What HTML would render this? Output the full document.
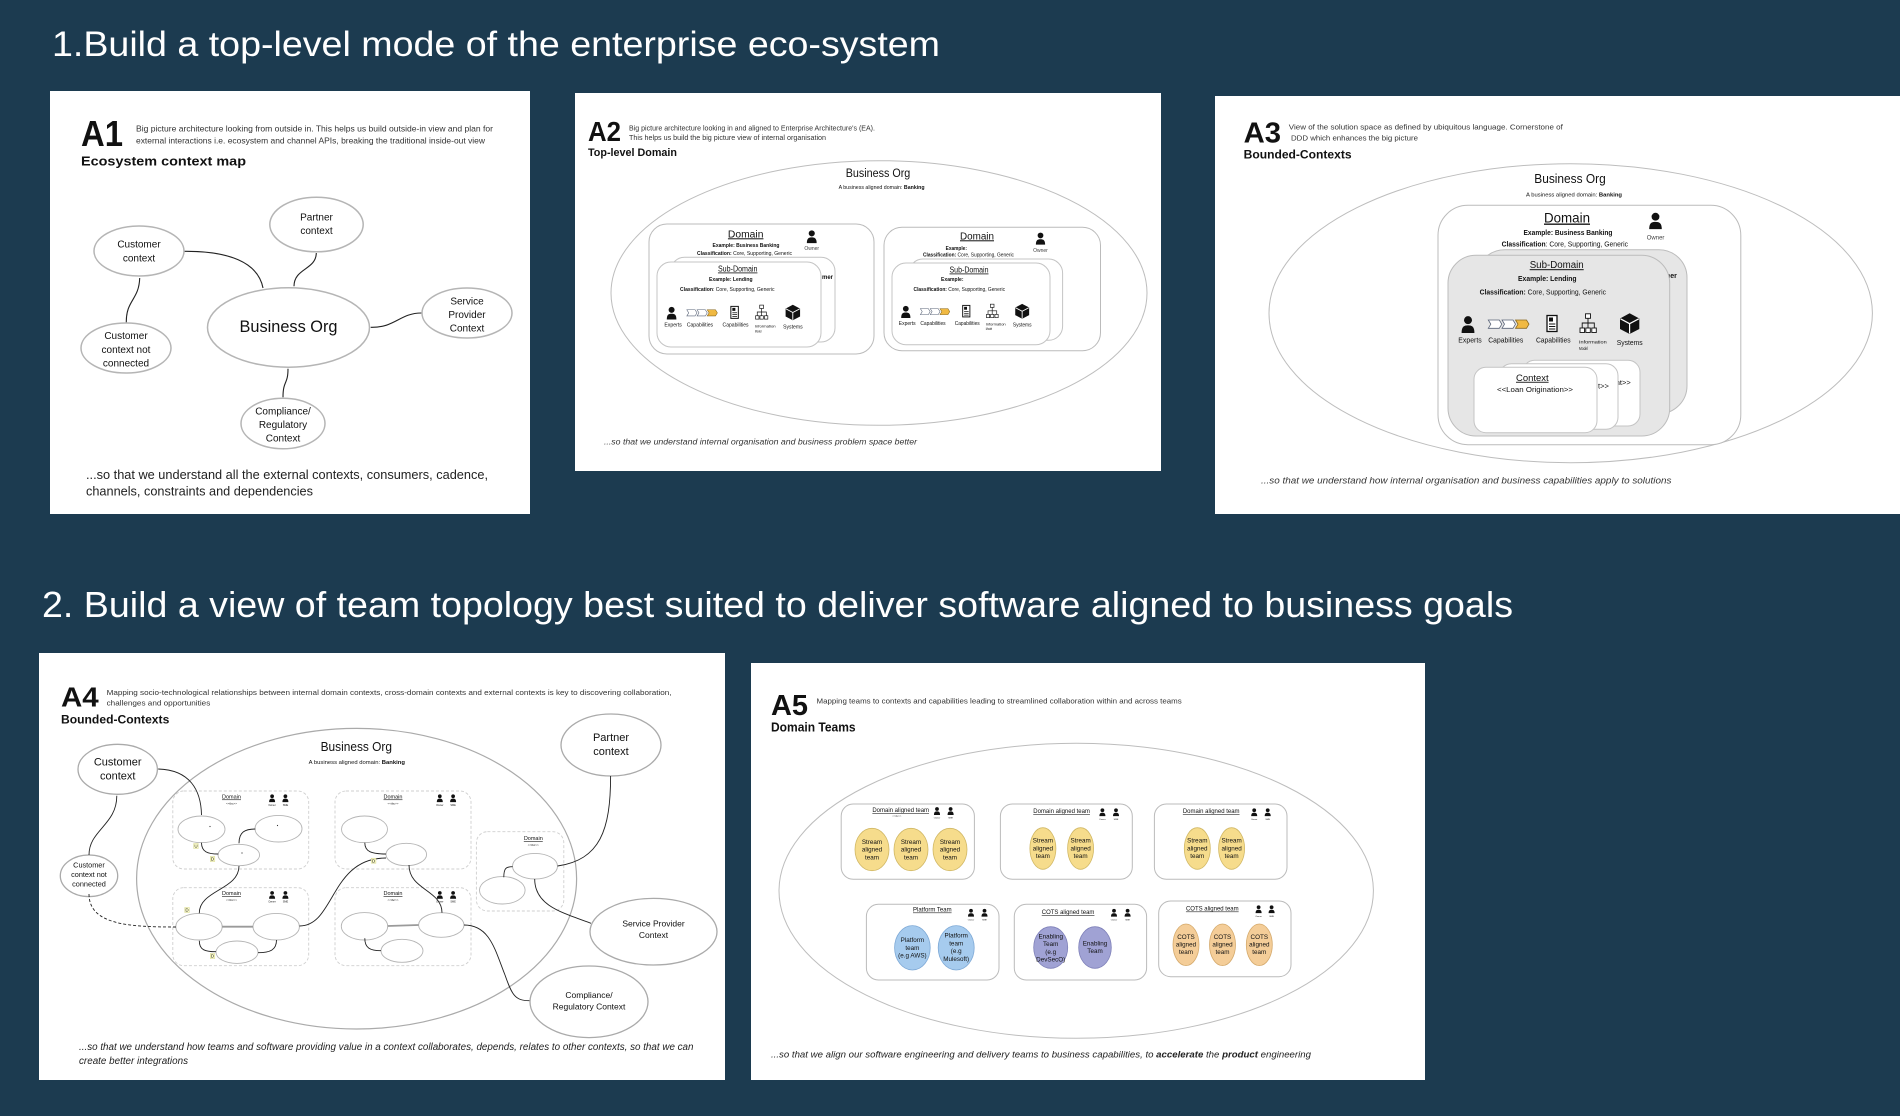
<!DOCTYPE html>
<html><head><meta charset="utf-8"><style>
html,body{margin:0;padding:0;background:#1c3b50;}
svg{display:block;}
text{font-family:"Liberation Sans",sans-serif;fill:#111;}
</style></head><body>
<svg width="1900" height="1116" viewBox="0 0 1900 1116" xmlns="http://www.w3.org/2000/svg">
<defs>
<symbol id="p" viewBox="0 0 20 22"><circle cx="10" cy="6" r="5" fill="#111"/><path d="M2 22 C2 14 5 12.5 10 12.5 C15 12.5 18 14 18 22 Z" fill="#111"/></symbol>
<g id="irow">
  <use href="#p" x="2" y="2" width="16" height="18.3"/>
  <polygon points="30.3,7 41.3,7 43.8,11.15 41.3,15.3 30.3,15.3 32.8,11.15" fill="#fff" stroke="#5a6478" stroke-width="0.8"/>
  <polygon points="44,7 55,7 57.5,11.15 55,15.3 44,15.3 46.5,11.15" fill="#fff" stroke="#5a6478" stroke-width="0.8"/>
  <polygon points="57.5,7 68.5,7 71,11.15 68.5,15.3 57.5,15.3 60,11.15" fill="#f0b942" stroke="#8a6a20" stroke-width="0.8"/>
  <rect x="89" y="2.5" width="10" height="16" fill="#fff" stroke="#111" stroke-width="1.3"/>
  <rect x="91" y="4.5" width="4" height="4" fill="#111"/>
  <line x1="91" y1="11" x2="97.3" y2="11" stroke="#111" stroke-width="1"/>
  <line x1="91" y1="13.5" x2="97.3" y2="13.5" stroke="#111" stroke-width="1"/>
  <line x1="91" y1="16" x2="97.3" y2="16" stroke="#111" stroke-width="1"/>
  <rect x="127.5" y="0.8" width="5" height="4.5" fill="#fff" stroke="#111" stroke-width="0.9"/>
  <path d="M130 5.3 V10 M124.2 15 V10 H136.3 V15 M130 10 V15" stroke="#111" stroke-width="0.9" fill="none"/>
  <rect x="122" y="15" width="4.5" height="4.5" fill="#fff" stroke="#111" stroke-width="0.9"/>
  <rect x="127.8" y="15" width="4.5" height="4.5" fill="#fff" stroke="#111" stroke-width="0.9"/>
  <rect x="133.8" y="15" width="4.5" height="4.5" fill="#fff" stroke="#111" stroke-width="0.9"/>
  <polygon points="171.6,0.3 181.3,5.5 181.3,16 171.6,21 162,16 162,5.5" fill="#111"/>
  <path d="M162.5 5.8 L171.6 10.7 L180.8 5.8 M171.6 10.7 V20.5" stroke="#fff" stroke-width="1.2" fill="none"/>
  <text x="12" y="29.5" font-size="7" text-anchor="middle" textLength="23.4" lengthAdjust="spacingAndGlyphs" fill="#333">Experts</text>
  <text x="47.8" y="29.5" font-size="7" text-anchor="middle" textLength="35" lengthAdjust="spacingAndGlyphs" fill="#333">Capabilities</text>
  <text x="95.3" y="29.5" font-size="7" text-anchor="middle" textLength="34.7" lengthAdjust="spacingAndGlyphs" fill="#333">Capabilities</text>
  <text x="121" y="30.5" font-size="4.8" textLength="27.7" lengthAdjust="spacingAndGlyphs" fill="#333">Information</text>
  <text x="121" y="37" font-size="4.8" textLength="9" lengthAdjust="spacingAndGlyphs" fill="#333">Model</text>
  <text x="171.7" y="32" font-size="7" text-anchor="middle" textLength="26" lengthAdjust="spacingAndGlyphs" fill="#333">Systems</text>
</g>
</defs>
<rect width="1900" height="1116" fill="#1c3b50"/>

<!-- Titles -->
<text x="52" y="56" font-size="35" fill="#fff" style="fill:#fff" textLength="888" lengthAdjust="spacingAndGlyphs">1.Build a top-level mode of the enterprise eco-system</text>
<text x="42" y="617" font-size="36" style="fill:#fff" textLength="1471" lengthAdjust="spacingAndGlyphs">2. Build a view of team topology best suited to deliver software aligned to business goals</text>

<!-- ================= A1 ================= -->
<rect x="50" y="91" width="480" height="423" fill="#fff"/>
<text x="81" y="146" font-size="36" font-weight="bold" textLength="42" lengthAdjust="spacingAndGlyphs">A1</text>
<text x="136" y="131.5" font-size="8.5" fill="#333" style="fill:#333" textLength="357" lengthAdjust="spacingAndGlyphs">Big picture architecture looking from outside in. This helps us build outside-in view and plan for</text>
<text x="136" y="143.5" font-size="8.5" style="fill:#333" textLength="349" lengthAdjust="spacingAndGlyphs">external interactions i.e. ecosystem and channel APIs, breaking the traditional inside-out view</text>
<text x="81" y="165.5" font-size="13.3" font-weight="bold" textLength="165" lengthAdjust="spacingAndGlyphs">Ecosystem context map</text>

<g fill="#fff" stroke="#b5b5b5" stroke-width="1.5">
  <ellipse cx="139" cy="251" rx="45" ry="25"/>
  <ellipse cx="316.5" cy="224.5" rx="46.7" ry="27.3"/>
  <ellipse cx="288.5" cy="327.5" rx="81" ry="39.7"/>
  <ellipse cx="467" cy="313" rx="45" ry="25"/>
  <ellipse cx="126" cy="348" rx="45" ry="25"/>
  <ellipse cx="283" cy="423.5" rx="42" ry="25.3"/>
</g>
<g fill="none" stroke="#222" stroke-width="1.1">
  <path d="M184.7,251.3 C228,251 258,262 263,288"/>
  <path d="M316.3,253 C316,270 294,268 294,286.3"/>
  <path d="M139.7,278 C139,300 126,300 126.3,322.3"/>
  <path d="M370.7,327.3 C395,328 400,313 421.3,313"/>
  <path d="M288,368.7 C288,385 283,380 283,397.3"/>
</g>
<g font-size="10" text-anchor="middle" style="fill:#222">
  <text x="139" y="247.5">Customer</text><text x="139" y="261.5">context</text>
  <text x="316.5" y="220.5">Partner</text><text x="316.5" y="234">context</text>
  <text x="467" y="304.5">Service</text><text x="467" y="318">Provider</text><text x="467" y="331.5">Context</text>
  <text x="126" y="339.2">Customer</text><text x="126" y="352.8">context not</text><text x="126" y="366.5">connected</text>
  <text x="283" y="414.5">Compliance/</text><text x="283" y="428">Regulatory</text><text x="283" y="441.5">Context</text>
</g>
<text x="288.5" y="332" font-size="16.5" text-anchor="middle" textLength="98" lengthAdjust="spacingAndGlyphs">Business Org</text>
<text x="86" y="479" font-size="12.5" style="fill:#222" textLength="402" lengthAdjust="spacingAndGlyphs">...so that we understand all the external contexts, consumers, cadence,</text>
<text x="86" y="495.5" font-size="12.5" style="fill:#222" textLength="227" lengthAdjust="spacingAndGlyphs">channels, constraints and dependencies</text>

<!-- ================= A2 ================= -->
<rect x="575" y="93" width="586" height="378" fill="#fff"/>
<text x="588" y="141" font-size="28" font-weight="bold" textLength="33" lengthAdjust="spacingAndGlyphs">A2</text>
<text x="629" y="130.5" font-size="7" style="fill:#333" textLength="246" lengthAdjust="spacingAndGlyphs">Big picture architecture looking in and aligned to Enterprise Architecture's (EA).</text>
<text x="629" y="139.8" font-size="7" style="fill:#333" textLength="197" lengthAdjust="spacingAndGlyphs">This helps us build the big picture view of internal organisation</text>
<text x="588" y="156" font-size="11" font-weight="bold" textLength="89" lengthAdjust="spacingAndGlyphs">Top-level Domain</text>
<ellipse cx="879" cy="293" rx="268" ry="132.3" fill="#fff" stroke="#bdbdbd" stroke-width="1"/>
<text x="878" y="177" font-size="11.5" text-anchor="middle" textLength="64.5" lengthAdjust="spacingAndGlyphs">Business Org</text>
<text x="881.6" y="189" font-size="5.5" text-anchor="middle" textLength="86" lengthAdjust="spacingAndGlyphs">A business aligned domain: <tspan font-weight="bold">Banking</tspan></text>

<!-- left domain -->
<rect x="649" y="224" width="225" height="130" rx="18" fill="#fff" stroke="#bbb" stroke-width="1"/>
<text x="745.7" y="237.3" font-size="10" text-anchor="middle" text-decoration="underline" textLength="35.5" lengthAdjust="spacingAndGlyphs">Domain</text>
<use href="#p" x="804.5" y="229.7" width="14.5" height="13.5"/>
<text x="811.7" y="250" font-size="5" text-anchor="middle" style="fill:#444">Owner</text>
<text x="746" y="247" font-size="5.5" font-weight="bold" text-anchor="middle" textLength="67" lengthAdjust="spacingAndGlyphs">Example: Business Banking</text>
<text x="744.5" y="255" font-size="5.5" text-anchor="middle" textLength="95" lengthAdjust="spacingAndGlyphs"><tspan font-weight="bold">Classification:</tspan> Core, Supporting, Generic</text>
<rect x="670.6" y="257.3" width="164.4" height="84.7" rx="14" fill="#fff" stroke="#c4c4c4" stroke-width="1"/>
<text x="822" y="279" font-size="6" font-weight="bold">mer</text>
<rect x="657" y="262" width="164" height="85" rx="14" fill="#fff" stroke="#c4c4c4" stroke-width="1"/>
<text x="737.7" y="271.5" font-size="8" text-anchor="middle" text-decoration="underline" textLength="39.5" lengthAdjust="spacingAndGlyphs">Sub-Domain</text>
<text x="730.8" y="281" font-size="5.5" font-weight="bold" text-anchor="middle" textLength="43.5" lengthAdjust="spacingAndGlyphs">Example: Lending</text>
<text x="727.3" y="291" font-size="5.5" text-anchor="middle" textLength="94.5" lengthAdjust="spacingAndGlyphs"><tspan font-weight="bold">Classification</tspan>: Core, Supporting, Generic</text>
<use href="#irow" transform="translate(664.1,304.5) scale(0.75)"/>

<!-- right domain -->
<rect x="884" y="227.3" width="216.5" height="123.4" rx="18" fill="#fff" stroke="#bbb" stroke-width="1"/>
<text x="977" y="239.3" font-size="10" text-anchor="middle" text-decoration="underline" textLength="34" lengthAdjust="spacingAndGlyphs">Domain</text>
<use href="#p" x="1034" y="232" width="13" height="12.7"/>
<text x="1040.5" y="252" font-size="5" text-anchor="middle" style="fill:#444">Owner</text>
<text x="956.3" y="250" font-size="5.5" font-weight="bold" text-anchor="middle" textLength="21.3" lengthAdjust="spacingAndGlyphs">Example:</text>
<text x="968.5" y="256.7" font-size="5.5" text-anchor="middle" textLength="91" lengthAdjust="spacingAndGlyphs"><tspan font-weight="bold">Classification:</tspan> Core, Supporting, Generic</text>
<rect x="909" y="259" width="153.6" height="81.3" rx="14" fill="#fff" stroke="#c4c4c4" stroke-width="1"/>
<rect x="892" y="263" width="158" height="81.7" rx="14" fill="#fff" stroke="#c4c4c4" stroke-width="1"/>
<text x="969" y="272.5" font-size="8" text-anchor="middle" text-decoration="underline" textLength="39" lengthAdjust="spacingAndGlyphs">Sub-Domain</text>
<text x="952.3" y="281" font-size="5.5" font-weight="bold" text-anchor="middle" textLength="22.5" lengthAdjust="spacingAndGlyphs">Example:</text>
<text x="959.3" y="291" font-size="5.5" text-anchor="middle" textLength="91.5" lengthAdjust="spacingAndGlyphs"><tspan font-weight="bold">Classification:</tspan> Core, Supporting, Generic</text>
<use href="#irow" transform="translate(898.6,303.6) scale(0.72)"/>

<text x="604" y="444.3" font-size="8.5" font-style="italic" style="fill:#333" textLength="313" lengthAdjust="spacingAndGlyphs">...so that we understand internal organisation and business problem space better</text>

<!-- ================= A3 ================= -->
<rect x="1215" y="96" width="685" height="418" fill="#fff"/>
<text x="1243.6" y="142.7" font-size="29" font-weight="bold" textLength="37.4" lengthAdjust="spacingAndGlyphs">A3</text>
<text x="1288.8" y="129.5" font-size="7.5" style="fill:#333" textLength="274" lengthAdjust="spacingAndGlyphs">View of the solution space as defined by ubiquitous language. Cornerstone of</text>
<text x="1291" y="140.5" font-size="7.5" style="fill:#333" textLength="127" lengthAdjust="spacingAndGlyphs">DDD which enhances the big picture</text>
<text x="1243.6" y="158.5" font-size="12" font-weight="bold" textLength="108" lengthAdjust="spacingAndGlyphs">Bounded-Contexts</text>
<ellipse cx="1570.7" cy="313.2" rx="301.7" ry="149.5" fill="#fff" stroke="#bdbdbd" stroke-width="1"/>
<text x="1570" y="183" font-size="12.5" text-anchor="middle" textLength="71.5" lengthAdjust="spacingAndGlyphs">Business Org</text>
<text x="1574" y="196.3" font-size="5.5" text-anchor="middle" textLength="96" lengthAdjust="spacingAndGlyphs">A business aligned domain: <tspan font-weight="bold">Banking</tspan></text>
<rect x="1438" y="205.3" width="302.8" height="239.4" rx="30" fill="#fff" stroke="#bbb" stroke-width="1"/>
<text x="1567" y="222.5" font-size="13.5" text-anchor="middle" text-decoration="underline" textLength="46" lengthAdjust="spacingAndGlyphs">Domain</text>
<use href="#p" x="1646" y="212" width="19" height="17.3"/>
<text x="1655.6" y="239.5" font-size="6" text-anchor="middle" style="fill:#444">Owner</text>
<text x="1568" y="235" font-size="7" font-weight="bold" text-anchor="middle" textLength="89" lengthAdjust="spacingAndGlyphs">Example: Business Banking</text>
<text x="1564.8" y="246.5" font-size="7" text-anchor="middle" textLength="126.4" lengthAdjust="spacingAndGlyphs"><tspan font-weight="bold">Classification</tspan>: Core, Supporting, Generic</text>
<rect x="1476.6" y="249.7" width="210.4" height="164" rx="28" fill="#e6e6e6" stroke="#bcbcbc" stroke-width="1"/>
<text x="1664" y="278" font-size="7" font-weight="bold">mer</text>
<rect x="1448" y="255.3" width="221.7" height="180.7" rx="28" fill="#e6e6e6" stroke="#bcbcbc" stroke-width="1"/>
<text x="1556.7" y="268.2" font-size="10" text-anchor="middle" text-decoration="underline" textLength="54" lengthAdjust="spacingAndGlyphs">Sub-Domain</text>
<text x="1547.3" y="280.8" font-size="7" font-weight="bold" text-anchor="middle" textLength="58.6" lengthAdjust="spacingAndGlyphs">Example: Lending</text>
<text x="1542.8" y="294.5" font-size="7" text-anchor="middle" textLength="126.3" lengthAdjust="spacingAndGlyphs"><tspan font-weight="bold">Classification:</tspan> Core, Supporting, Generic</text>
<use href="#irow" transform="translate(1458,313)"/>
<rect x="1522.7" y="360.3" width="117.3" height="65.7" rx="12" fill="#fff" stroke="#c4c4c4" stroke-width="1"/>
<text x="1615.7" y="385" font-size="7.5">nt&gt;&gt;</text>
<rect x="1499.4" y="363.7" width="118.6" height="65.6" rx="12" fill="#fff" stroke="#c4c4c4" stroke-width="1"/>
<text x="1598" y="388.5" font-size="7.5">t&gt;&gt;</text>
<rect x="1474" y="367.3" width="123" height="65.4" rx="12" fill="#fff" stroke="#c4c4c4" stroke-width="1"/>
<text x="1532.3" y="380.8" font-size="9" text-anchor="middle" text-decoration="underline" textLength="32.6" lengthAdjust="spacingAndGlyphs">Context</text>
<text x="1535" y="392" font-size="7.5" text-anchor="middle" textLength="76" lengthAdjust="spacingAndGlyphs">&lt;&lt;Loan Origination&gt;&gt;</text>
<text x="1261" y="483.5" font-size="9" font-style="italic" style="fill:#333" textLength="410.4" lengthAdjust="spacingAndGlyphs">...so that we understand how internal organisation and business capabilities apply to solutions</text>

<!-- ================= A4 ================= -->
<rect x="39" y="653" width="686" height="427" fill="#fff"/>
<text x="61" y="706.7" font-size="28" font-weight="bold" textLength="37.7" lengthAdjust="spacingAndGlyphs">A4</text>
<text x="106.6" y="695" font-size="7.5" style="fill:#333" textLength="565" lengthAdjust="spacingAndGlyphs">Mapping socio-technological relationships between internal domain contexts,  cross-domain contexts and external contexts is key to discovering collaboration,</text>
<text x="106.6" y="705.3" font-size="7.5" style="fill:#333" textLength="103.7" lengthAdjust="spacingAndGlyphs">challenges and opportunities</text>
<text x="61" y="723.3" font-size="12" font-weight="bold" textLength="108.3" lengthAdjust="spacingAndGlyphs">Bounded-Contexts</text>
<ellipse cx="356.6" cy="878.7" rx="220" ry="150.3" fill="#fff" stroke="#aaa" stroke-width="1.2"/>
<text x="356.3" y="751" font-size="12.5" text-anchor="middle" textLength="71.4" lengthAdjust="spacingAndGlyphs">Business Org</text>
<text x="356.8" y="764" font-size="5.5" text-anchor="middle" textLength="96.3" lengthAdjust="spacingAndGlyphs">A business aligned domain: <tspan font-weight="bold">Banking</tspan></text>

<!-- external contexts -->
<g fill="#fff" stroke="#aaa" stroke-width="1.3">
  <ellipse cx="117.7" cy="769.3" rx="39.7" ry="25"/>
  <ellipse cx="611" cy="745" rx="50" ry="31"/>
  <ellipse cx="89" cy="875.8" rx="28.7" ry="20.8"/>
  <ellipse cx="653.5" cy="931.7" rx="63.5" ry="33.3"/>
  <ellipse cx="589" cy="1001.8" rx="59" ry="35.8"/>
</g>
<g text-anchor="middle" style="fill:#222">
  <text x="117.7" y="765.5" font-size="11">Customer</text><text x="117.7" y="779.5" font-size="11">context</text>
  <text x="611" y="741" font-size="11">Partner</text><text x="611" y="755" font-size="11">context</text>
  <text x="89" y="867.6" font-size="7.3">Customer</text><text x="89" y="877" font-size="7.3">context not</text><text x="89" y="886.6" font-size="7.3">connected</text>
  <text x="653.5" y="926.3" font-size="8.5">Service Provider</text><text x="653.5" y="938" font-size="8.5">Context</text>
  <text x="589" y="998" font-size="8.5">Compliance/</text><text x="589" y="1009.7" font-size="8.5">Regulatory Context</text>
</g>

<!-- domain dashed boxes -->
<g fill="none" stroke="#cfcfcf" stroke-width="0.9" stroke-dasharray="3 2">
  <rect x="172.8" y="791" width="135.9" height="78" rx="11"/>
  <rect x="335" y="791" width="136" height="78" rx="11"/>
  <rect x="476.4" y="831.7" width="87.4" height="79.3" rx="11"/>
  <rect x="172.8" y="887.7" width="135.9" height="78" rx="11"/>
  <rect x="335" y="887.7" width="136" height="78" rx="11"/>
</g>
<g font-size="5.5" text-anchor="middle" text-decoration="underline">
  <text x="231.5" y="798.5">Domain</text>
  <text x="393" y="798.5">Domain</text>
  <text x="533.3" y="840">Domain</text>
  <text x="231.5" y="895">Domain</text>
  <text x="393" y="895">Domain</text>
</g>
<g font-size="3" text-anchor="middle" style="fill:#555">
  <text x="231.5" y="804.5">&lt;&lt;tbc&gt;&gt;</text>
  <text x="393" y="804.5">&lt;&lt;tbc&gt;&gt;</text>
  <text x="533.3" y="846">&lt;&lt;tbc&gt;&gt;</text>
  <text x="231.5" y="901">&lt;&lt;tbc&gt;&gt;</text>
  <text x="393" y="901">&lt;&lt;tbc&gt;&gt;</text>
</g>
<g>
  <use href="#p" x="267.7" y="794" width="8.8" height="8.2"/><use href="#p" x="281" y="794" width="8.8" height="8.2"/>
  <use href="#p" x="435.4" y="794" width="8.8" height="8.2"/><use href="#p" x="448.7" y="794" width="8.8" height="8.2"/>
  <use href="#p" x="267.7" y="890.7" width="8.8" height="8.2"/><use href="#p" x="281" y="890.7" width="8.8" height="8.2"/>
  <use href="#p" x="435.4" y="890.7" width="8.8" height="8.2"/><use href="#p" x="448.7" y="890.7" width="8.8" height="8.2"/>
</g>
<g font-size="2.5" text-anchor="middle" style="fill:#555">
  <text x="272" y="806">Owner</text><text x="285.4" y="806">SME</text>
  <text x="439.8" y="806">Owner</text><text x="453.1" y="806">SME</text>
  <text x="272" y="902.7">Owner</text><text x="285.4" y="902.7">SME</text>
  <text x="439.8" y="902.7">Owner</text><text x="453.1" y="902.7">SME</text>
</g>
<!-- inner context ellipses -->
<g fill="#fff" stroke="#b5b5b5" stroke-width="0.9">
  <ellipse cx="201.5" cy="829.3" rx="23.5" ry="13.3"/>
  <ellipse cx="278.5" cy="828.7" rx="23.5" ry="13.3"/>
  <ellipse cx="238.8" cy="855" rx="20.8" ry="10.7"/>
  <ellipse cx="364.5" cy="829.3" rx="23" ry="13.3"/>
  <ellipse cx="406.3" cy="854.5" rx="20.3" ry="11.2"/>
  <ellipse cx="535" cy="866.2" rx="22.5" ry="12.8"/>
  <ellipse cx="502.3" cy="890.3" rx="22.8" ry="13.7"/>
  <ellipse cx="199" cy="926.7" rx="23.2" ry="13.3"/>
  <ellipse cx="276.2" cy="926.7" rx="23.2" ry="13.3"/>
  <ellipse cx="237" cy="952.2" rx="21" ry="11.2"/>
  <ellipse cx="364.5" cy="926.3" rx="23.2" ry="13.7"/>
  <ellipse cx="441.3" cy="925" rx="22.7" ry="12.3"/>
  <ellipse cx="402" cy="950.8" rx="21" ry="11.5"/>
</g>
<g fill="#333"><circle cx="210" cy="826.5" r="0.6"/><circle cx="277.5" cy="825.5" r="0.6"/><circle cx="242" cy="853" r="0.6"/></g>
<g stroke="#9a9a9a" stroke-width="1.8">
  <line x1="222.2" y1="926.7" x2="253" y2="926.7"/>
  <line x1="387.7" y1="926" x2="418.6" y2="925"/>
</g>
<g fill="none" stroke="#222" stroke-width="0.9">
  <path d="M201.5,842.7 C201.5,852 208,854 218.3,854"/>
  <path d="M239,843.3 C239,832 245,829 255.3,829"/>
  <path d="M364.8,842.7 C364.8,852 372,854 386,854"/>
  <path d="M503.8,877.3 C503.8,868 506,866.7 512.6,866.7"/>
  <path d="M199.3,940.7 C199.3,950 205,951.7 216,951.7"/>
  <path d="M258,952.7 C270,952.7 276.5,950 276.5,940"/>
  <path d="M364.8,938.3 C364.8,948 370,950.7 381,950.7"/>
  <path d="M158.2,769 C190,770 201,790 201.5,815"/>
  <path d="M116.8,795.7 C116.8,825 89,830 89,855"/>
  <path d="M89,894 C89,925 130,927 176,927" stroke-dasharray="3 2"/>
  <path d="M239,866 C239,890 199,890 199.3,913.3"/>
  <path d="M299.5,926 C335,926 330,858 386,858"/>
  <path d="M409,865 C409,890 442,890 442,912.7"/>
  <path d="M464,925 C490,925 495,950 505,975 C512,995 515,1000.7 529.4,1000.7"/>
  <path d="M557.6,866 C600,860 610.6,830 610.6,776"/>
  <path d="M534.7,879 C534.7,905 560,912 591,923.3"/>
</g>
<g font-size="4.5" text-anchor="middle">
  <rect x="193.7" y="843.5" width="4.5" height="5" fill="#ffffcc" stroke="#d6d68a" stroke-width="0.5"/><text x="196" y="847.6">U</text>
  <rect x="210.3" y="856.5" width="4.5" height="5" fill="#ffffcc" stroke="#d6d68a" stroke-width="0.5"/><text x="212.5" y="860.6">D</text>
  <rect x="184.8" y="907.5" width="4.5" height="5" fill="#ffffcc" stroke="#d6d68a" stroke-width="0.5"/><text x="187" y="911.6">D</text>
  <rect x="210.3" y="953.5" width="4.5" height="5" fill="#ffffcc" stroke="#d6d68a" stroke-width="0.5"/><text x="212.5" y="957.6">D</text>
  <rect x="371.4" y="858.2" width="4.5" height="5" fill="#ffffcc" stroke="#d6d68a" stroke-width="0.5"/><text x="373.6" y="862.3">D</text>
</g>
<text x="79" y="1050" font-size="10" font-style="italic" style="fill:#222" textLength="614.5" lengthAdjust="spacingAndGlyphs">...so that we understand how teams and software providing value in a context collaborates, depends, relates to other contexts, so that we can</text>
<text x="79" y="1064" font-size="10" font-style="italic" style="fill:#222" textLength="109" lengthAdjust="spacingAndGlyphs">create better integrations</text>

<!-- ================= A5 ================= -->
<rect x="751" y="663" width="674" height="417" fill="#fff"/>
<text x="771" y="715" font-size="29" font-weight="bold" textLength="37" lengthAdjust="spacingAndGlyphs">A5</text>
<text x="816.5" y="703.3" font-size="7.5" style="fill:#333" textLength="365.2" lengthAdjust="spacingAndGlyphs">Mapping teams to contexts and capabilities leading to streamlined collaboration within and across teams</text>
<text x="771" y="731.5" font-size="12.5" font-weight="bold" textLength="84.6" lengthAdjust="spacingAndGlyphs">Domain Teams</text>
<ellipse cx="1076.2" cy="890.8" rx="297.2" ry="147.5" fill="#fff" stroke="#bdbdbd" stroke-width="1"/>

<g fill="#fff" stroke="#bbb" stroke-width="1">
  <rect x="841.2" y="804" width="133.2" height="75.3" rx="12"/>
  <rect x="1000.4" y="804" width="131.9" height="75.3" rx="12"/>
  <rect x="1154.4" y="804" width="132.6" height="75.3" rx="12"/>
  <rect x="866.4" y="904.3" width="132.6" height="75.7" rx="12"/>
  <rect x="1014.3" y="904.3" width="132.3" height="75.7" rx="12"/>
  <rect x="1158.7" y="901" width="132.3" height="75.7" rx="12"/>
</g>
<g font-size="6" text-anchor="middle" text-decoration="underline" style="fill:#222">
  <text x="900.7" y="812">Domain aligned team</text>
  <text x="1061.6" y="813">Domain aligned team</text>
  <text x="1211.2" y="813">Domain aligned team</text>
  <text x="932.3" y="911.5">Platform Team</text>
  <text x="1068.1" y="914">COTS aligned team</text>
  <text x="1212.3" y="910.5">COTS aligned team</text>
</g>
<text x="896.8" y="816.8" font-size="2.5" text-anchor="middle" style="fill:#555">&lt;&lt;tbc&gt;&gt;</text>
<g>
  <use href="#p" x="933" y="806.7" width="8" height="8.3"/><use href="#p" x="946.6" y="806.7" width="8" height="8.3"/>
  <use href="#p" x="1098.4" y="808" width="8" height="8.3"/><use href="#p" x="1112" y="808" width="8" height="8.3"/>
  <use href="#p" x="1250.2" y="808" width="8" height="8.3"/><use href="#p" x="1263.7" y="808" width="8" height="8.3"/>
  <use href="#p" x="967" y="908.5" width="8" height="8.3"/><use href="#p" x="980.5" y="908.5" width="8" height="8.3"/>
  <use href="#p" x="1110" y="908.5" width="8" height="8.3"/><use href="#p" x="1123.6" y="908.5" width="8" height="8.3"/>
  <use href="#p" x="1254.6" y="905" width="8" height="8.3"/><use href="#p" x="1267.6" y="905" width="8" height="8.3"/>
</g>
<g font-size="2.2" text-anchor="middle" style="fill:#555">
  <text x="937" y="818.5">Owner</text><text x="950.6" y="818.5">SME</text>
  <text x="1102.4" y="819.8">Owner</text><text x="1116" y="819.8">SME</text>
  <text x="1254.2" y="819.8">Owner</text><text x="1267.7" y="819.8">SME</text>
  <text x="971" y="920.3">Owner</text><text x="984.5" y="920.3">SME</text>
  <text x="1114" y="920.3">Owner</text><text x="1127.6" y="920.3">SME</text>
  <text x="1258.6" y="916.8">Owner</text><text x="1271.6" y="916.8">SME</text>
</g>
<!-- stream aligned (yellow) -->
<g fill="#f6dc8c" stroke="#d1b865" stroke-width="0.8">
  <ellipse cx="872" cy="849.5" rx="17" ry="21.2"/>
  <ellipse cx="911" cy="849.5" rx="17" ry="21.2"/>
  <ellipse cx="950" cy="849.5" rx="17" ry="21.2"/>
  <ellipse cx="1042.9" cy="848.5" rx="13" ry="20.8"/>
  <ellipse cx="1080.6" cy="848.5" rx="13" ry="20.8"/>
  <ellipse cx="1197.3" cy="848.5" rx="13" ry="20.8"/>
  <ellipse cx="1231.6" cy="848.5" rx="13" ry="20.8"/>
</g>
<g fill="#a6cbee" stroke="#7ea9d6" stroke-width="0.8">
  <ellipse cx="912.4" cy="947.8" rx="17.8" ry="22.2"/>
  <ellipse cx="956.2" cy="947.8" rx="18" ry="22.2"/>
</g>
<g fill="#a0a2d4" stroke="#7f81b9" stroke-width="0.8">
  <ellipse cx="1050.7" cy="947.5" rx="17" ry="20.8"/>
  <ellipse cx="1095" cy="947.5" rx="16.3" ry="20.8"/>
</g>
<g fill="#f4cd98" stroke="#d5aa6c" stroke-width="0.8">
  <ellipse cx="1186" cy="944.8" rx="13" ry="20.8"/>
  <ellipse cx="1222.5" cy="944.8" rx="13" ry="20.8"/>
  <ellipse cx="1259.3" cy="944.8" rx="13" ry="20.8"/>
</g>
<g font-size="6.3" text-anchor="middle" style="fill:#333">
  <text x="872" y="844">Stream</text><text x="872" y="851.6">aligned</text><text x="872" y="859.3">team</text>
  <text x="911" y="844">Stream</text><text x="911" y="851.6">aligned</text><text x="911" y="859.3">team</text>
  <text x="950" y="844">Stream</text><text x="950" y="851.6">aligned</text><text x="950" y="859.3">team</text>
  <text x="1042.9" y="842.7">Stream</text><text x="1042.9" y="850.4">aligned</text><text x="1042.9" y="858.2">team</text>
  <text x="1080.6" y="842.7">Stream</text><text x="1080.6" y="850.4">aligned</text><text x="1080.6" y="858.2">team</text>
  <text x="1197.3" y="842.7">Stream</text><text x="1197.3" y="850.4">aligned</text><text x="1197.3" y="858.2">team</text>
  <text x="1231.6" y="842.7">Stream</text><text x="1231.6" y="850.4">aligned</text><text x="1231.6" y="858.2">team</text>
  <text x="912.4" y="942.2">Platform</text><text x="912.4" y="949.9">team</text><text x="912.4" y="957.5">(e.g AWS)</text>
  <text x="956.2" y="937.5">Platform</text><text x="956.2" y="945.5">team</text><text x="956.2" y="953.2">(e.g</text><text x="956.2" y="960.9">Mulesoft)</text>
  <text x="1050.7" y="938.5">Enabling</text><text x="1050.7" y="946.2">Team</text><text x="1050.7" y="953.9">(e.g</text><text x="1050.7" y="961.5">DevSecO)</text>
  <text x="1095" y="945.5">Enabling</text><text x="1095" y="953.2">Team</text>
  <text x="1186" y="938.9">COTS</text><text x="1186" y="946.5">aligned</text><text x="1186" y="954.2">team</text>
  <text x="1222.5" y="938.9">COTS</text><text x="1222.5" y="946.5">aligned</text><text x="1222.5" y="954.2">team</text>
  <text x="1259.3" y="938.9">COTS</text><text x="1259.3" y="946.5">aligned</text><text x="1259.3" y="954.2">team</text>
</g>
<text x="771" y="1057.5" font-size="9.5" font-style="italic" style="fill:#222" textLength="540" lengthAdjust="spacingAndGlyphs">...so that we align our software engineering and delivery teams to business capabilities, to <tspan font-weight="bold">accelerate</tspan> the <tspan font-weight="bold">product</tspan> engineering</text>
</svg>
</body></html>
